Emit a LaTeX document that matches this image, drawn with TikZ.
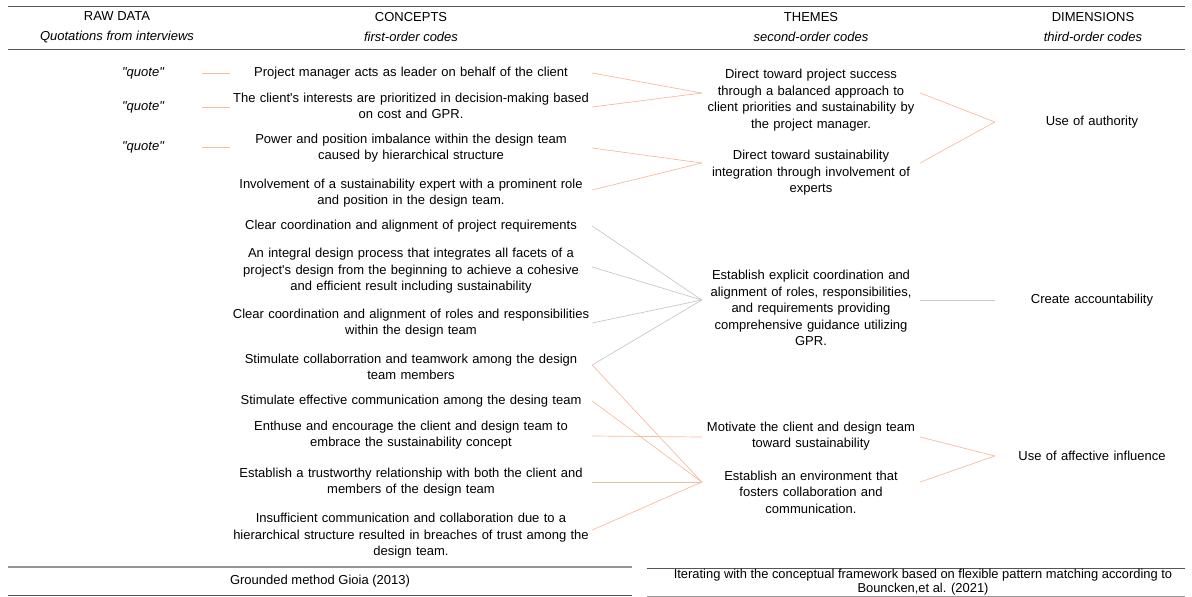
\documentclass[tikz,border=0pt]{standalone}
\usepackage{fontspec}
\setmainfont{Liberation Sans}
\definecolor{linkwarm}{RGB}{246,188,158}
\definecolor{linkcool}{RGB}{200,200,204}
\definecolor{ruledark}{RGB}{85,85,85}
\definecolor{rulelight}{RGB}{150,150,150}
\usetikzlibrary{positioning}

\begin{document}
\begin{tikzpicture}[x=1pt,y=-1pt,
    txt/.style={inner sep=0pt,align=center,font=\fontsize{13}{16.6}\selectfont},
    head/.style={inner sep=0pt,align=center,font=\fontsize{13}{20}\selectfont},
    concept/.style={txt,text width=362pt},
    theme/.style={txt,text width=218pt},
    dimension/.style={txt,text width=194pt},
    quote/.style={txt,text width=118pt,font=\fontsize{13}{16.6}\selectfont\itshape},
    warm/.style={draw=linkwarm,line width=0.7pt},
    cool/.style={draw=linkcool,line width=0.7pt}]
        \useasboundingbox (0,0) rectangle (1192,597);
        % header
        \draw[ruledark] (8,6) -- (1185,6);
        \draw[ruledark] (8,49) -- (1185,49);
        \node[head] (rawdata) at (117,27) {RAW DATA\\\textit{Quotations from interviews}};
        \node[head] (concepts) at (411,27) {CONCEPTS\\\textit{first-order codes}};
        \node[head] (themes) at (811,27) {THEMES\\\textit{second-order codes}};
        \node[head] (dimensions) at (1093,27) {DIMENSIONS\\\textit{third-order codes}};
        % raw data
        \node[quote] (q1) at (143,73) {\textquotedbl quote\textquotedbl};
        \node[quote] (q2) at (143,107) {\textquotedbl quote\textquotedbl};
        \node[quote] (q3) at (143,147) {\textquotedbl quote\textquotedbl};
        % first-order codes
        \node[concept] (c1) at (411,73) {Project manager acts as leader on behalf of the client};
        \node[concept] (c2) at (411,106) {The client\textquotesingle s interests are prioritized in decision-making based\\on cost and GPR.};
        \node[concept] (c3) at (411,148) {Power and position imbalance within the design team\\caused by hierarchical structure};
        \node[concept] (c4) at (411,193) {Involvement of a sustainability expert with a prominent role\\and position in the design team.};
        \node[concept] (c5) at (411,226) {Clear coordination and alignment of project requirements};
        \node[concept] (c6) at (411,271) {An integral design process that integrates all facets of a\\project\textquotesingle s design from the beginning to achieve a cohesive\\and efficient result including sustainability};
        \node[concept] (c7) at (411,323) {Clear coordination and alignment of roles and responsibilities\\within the design team};
        \node[concept] (c8) at (411,367) {Stimulate collaborration and teamwork among the design\\team members};
        \node[concept] (c9) at (411,401) {Stimulate effective communication among the desing team};
        \node[concept] (c10) at (411,435) {Enthuse and encourage the client and design team to\\embrace the sustainability concept};
        \node[concept] (c11) at (411,482) {Establish a trustworthy relationship with both the client and\\members of the design team};
        \node[concept] (c12) at (411,536) {Insufficient communication and collaboration due to a\\hierarchical structure resulted in breaches of trust among the\\design team.};
        % second-order codes
        \node[theme] (t1) at (811,100) {Direct toward project success\\through a balanced approach to\\client priorities and sustainability by\\the project manager.};
        \node[theme] (t2) at (811,173) {Direct toward sustainability\\integration through involvement of\\experts};
        \node[theme] (t3) at (811,308) {Establish explicit coordination and\\alignment of roles, responsibilities,\\and requirements providing\\comprehensive guidance utilizing\\GPR.};
        \node[theme] (t4) at (811,436) {Motivate the client and design team\\toward sustainability};
        \node[theme] (t5) at (811,492) {Establish an environment that\\fosters collaboration and\\communication.};
        % third-order codes
        \node[dimension] (d1) at (1092,122) {Use of authority};
        \node[dimension] (d2) at (1092,300) {Create accountability};
        \node[dimension] (d3) at (1092,456) {Use of affective influence};
        % links
        \draw[warm] (q1.east) -- (q1.east -| c1.west);
        \draw[warm] (q2.east) -- (q2.east -| c2.west);
        \draw[warm] (q3.east) -- (q3.east -| c3.west);
        \draw[warm] (c1.east) -- ([yshift=7pt]t1.west);
        \draw[warm] ([yshift=-1pt]c2.east) -- ([yshift=7pt]t1.west);
        \draw[warm] (c3.east) -- ([yshift=10pt]t2.west);
        \draw[warm] ([yshift=3pt]c4.east) -- ([yshift=10pt]t2.west);
        \draw[cool] (c5.east) -- ([yshift=8pt]t3.west);
        \draw[cool] ([yshift=4pt]c6.east) -- ([yshift=8pt]t3.west);
        \draw[cool] (c7.east) -- ([yshift=8pt]t3.west);
        \draw[cool] ([yshift=2pt]c8.east) -- ([yshift=8pt]t3.west);
        \draw[warm] ([yshift=2pt]c8.east) -- ([yshift=10pt]t5.west);
        \draw[warm] (c9.east) -- ([yshift=10pt]t5.west);
        \draw[warm] ([yshift=-1pt]c10.east) -- ([yshift=-1pt]t4.west);
        \draw[warm] (c11.east) -- ([yshift=10pt]t5.west);
        \draw[warm] ([yshift=6pt]c12.east) -- ([yshift=10pt]t5.west);
        \draw[warm] ([yshift=7pt]t1.east) -- (d1.west);
        \draw[warm] ([yshift=10pt]t2.east) -- (d1.west);
        \draw[cool] ([yshift=8pt]t3.east) -- (d2.west);
        \draw[warm] ([yshift=-1pt]t4.east) -- (d3.west);
        \draw[warm] ([yshift=10pt]t5.east) -- (d3.west);
        % footer
        \draw[rulelight,line width=1.2pt] (8,567) -- (632,567);
        \draw[ruledark,line width=1pt] (8,595) -- (632,595);
        \node[txt] (gioia) at (320,581) {Grounded method Gioia (2013)};
        \draw[ruledark] (647,568) -- (1185,568);
        \draw[rulelight] (647,596) -- (1185,596);
        \node[txt,font=\fontsize{12.9}{14}\selectfont] (bouncken) at (923,582) {Iterating with the conceptual framework based on flexible pattern matching according to\\Bouncken,et al. (2021)};
\end{tikzpicture}
\end{document}
